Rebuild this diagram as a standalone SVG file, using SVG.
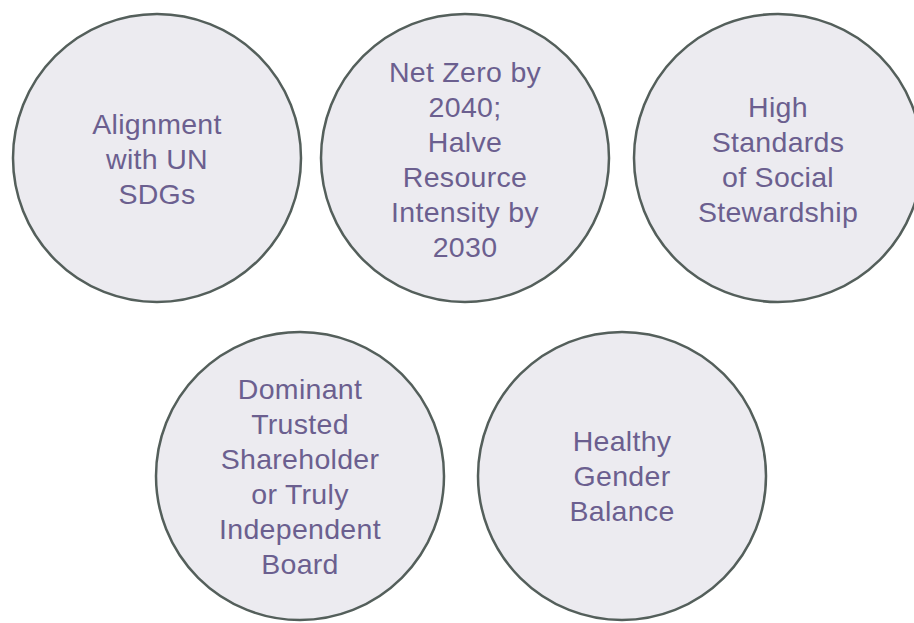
<svg xmlns="http://www.w3.org/2000/svg" width="914" height="623" viewBox="0 0 914 623">
<style>
.c{fill:#ecebf0;stroke:#545f5b;stroke-width:2.5}
.t{font-family:"Liberation Sans",Arial,sans-serif;font-size:28.5px;letter-spacing:0.3px;fill:#6b5f8f;text-anchor:middle}
</style>
<rect width="914" height="623" fill="#ffffff"/>
<g id="connectors"></g>
<g id="n1"><circle class="c" cx="157" cy="158" r="144"/>
<text class="t"><tspan x="157" y="134">Alignment</tspan><tspan x="157" y="169">with UN</tspan><tspan x="157" y="204">SDGs</tspan></text></g>
<g id="n2"><circle class="c" cx="465" cy="158" r="144"/>
<text class="t"><tspan x="465" y="82">Net Zero by</tspan><tspan x="465" y="117">2040;</tspan><tspan x="465" y="152">Halve</tspan><tspan x="465" y="187">Resource</tspan><tspan x="465" y="222">Intensity by</tspan><tspan x="465" y="257">2030</tspan></text></g>
<g id="n3"><circle class="c" cx="778" cy="158" r="144"/>
<text class="t"><tspan x="778" y="117">High</tspan><tspan x="778" y="152">Standards</tspan><tspan x="778" y="187">of Social</tspan><tspan x="778" y="222">Stewardship</tspan></text></g>
<g id="n4"><circle class="c" cx="300" cy="476" r="144"/>
<text class="t"><tspan x="300" y="399">Dominant</tspan><tspan x="300" y="434">Trusted</tspan><tspan x="300" y="469">Shareholder</tspan><tspan x="300" y="504">or Truly</tspan><tspan x="300" y="539">Independent</tspan><tspan x="300" y="574">Board</tspan></text></g>
<g id="n5"><circle class="c" cx="622" cy="476" r="144"/>
<text class="t"><tspan x="622" y="451">Healthy</tspan><tspan x="622" y="486">Gender</tspan><tspan x="622" y="521">Balance</tspan></text></g>
</svg>
